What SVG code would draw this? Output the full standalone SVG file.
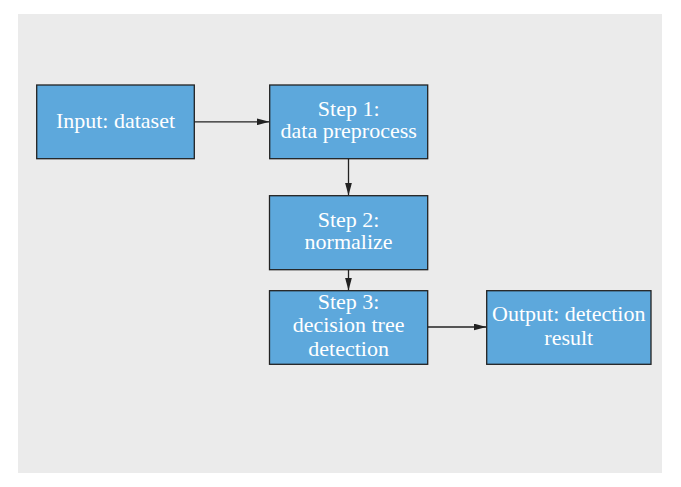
<svg xmlns="http://www.w3.org/2000/svg" width="681" height="487" viewBox="0 0 681 487">
<defs>
<style>
.node rect{fill:#5DA8DC;stroke:#222;stroke-width:1.3}
.node text{fill:#fff;font-family:"Liberation Serif","Times New Roman",serif;font-size:22px;text-anchor:middle}
.edge{stroke:#222;stroke-width:1.3;fill:none;marker-end:url(#ah)}
</style>
<marker id="ah" viewBox="0 0 13 7" refX="13" refY="3.5" markerWidth="13" markerHeight="7" markerUnits="userSpaceOnUse" orient="auto">
<path d="M0,0 L13,3.5 L0,7 Z" fill="#222"/>
</marker>
</defs>
<rect x="0" y="0" width="681" height="487" fill="#fff"/>
<rect x="18" y="14" width="644" height="459" fill="#ebebeb"/>
<g id="connectors">
<line class="edge" x1="194" y1="121.8" x2="269.5" y2="121.8"/>
<line class="edge" x1="348.5" y1="158.7" x2="348.5" y2="195.5"/>
<line class="edge" x1="348.5" y1="269.7" x2="348.5" y2="290.5"/>
<line class="edge" x1="427.7" y1="327" x2="486.5" y2="327"/>
</g>
<g id="input" class="node">
<rect x="36.7" y="85" width="157.6" height="73.7"/>
<text x="115.5" y="127.5">Input: dataset</text>
</g>
<g id="step1" class="node">
<rect x="269.7" y="85" width="158" height="73.7"/>
<text x="348.7" y="115.7">Step 1:</text>
<text x="348.7" y="138">data preprocess</text>
</g>
<g id="step2" class="node">
<rect x="269.5" y="195.7" width="158.2" height="74"/>
<text x="348.6" y="226.7">Step 2:</text>
<text x="348.6" y="249.3">normalize</text>
</g>
<g id="step3" class="node">
<rect x="269.5" y="290.7" width="158.2" height="73.6"/>
<text x="348.6" y="309.3">Step 3:</text>
<text x="348.6" y="332.3">decision tree</text>
<text x="348.6" y="355.7">detection</text>
</g>
<g id="output" class="node">
<rect x="486.7" y="290.7" width="164.3" height="73.6"/>
<text x="568.8" y="320.7">Output: detection</text>
<text x="568.8" y="345">result</text>
</g>
</svg>
